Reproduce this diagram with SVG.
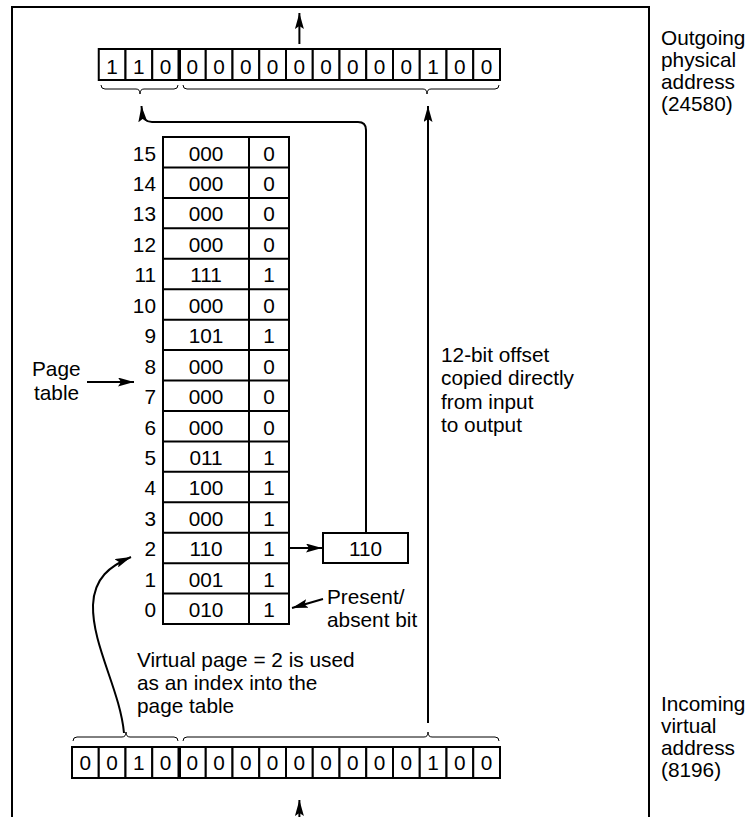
<svg xmlns="http://www.w3.org/2000/svg" width="748" height="817" viewBox="0 0 748 817">
<style>
text{font-family:"Liberation Sans",Arial,sans-serif;font-size:20.8px;fill:#000}
.c{text-anchor:middle}
.e{text-anchor:end}
.cell{fill:#fff;stroke:#000;stroke-width:2}
.ln{fill:none;stroke:#000;stroke-width:2}
.br{fill:none;stroke:#000;stroke-width:1}
</style>
<defs>
<marker id="ah" viewBox="0 0 16 9" refX="16" refY="4.5" markerWidth="16" markerHeight="9" markerUnits="userSpaceOnUse" orient="auto">
<path d="M0,0 L16,4.5 L0,9 L3,4.5 z" fill="#000"/>
</marker>
</defs>
<rect width="748" height="817" fill="#fff"/>
<g id="frame">
<path class="ln" d="M12,817 L12,7 L649,7 L649,817"/>
</g>

<g id="outgoing-address">
<rect class="cell" x="98.75" y="49" width="26.75" height="31"/>
<rect class="cell" x="125.5" y="49" width="26.75" height="31"/>
<rect class="cell" x="152.25" y="49" width="26.25" height="31"/>
<rect class="cell" x="180" y="49" width="25.75" height="31"/>
<rect class="cell" x="205.75" y="49" width="26.75" height="31"/>
<rect class="cell" x="232.5" y="49" width="26.75" height="31"/>
<rect class="cell" x="259.25" y="49" width="26.75" height="31"/>
<rect class="cell" x="286" y="49" width="26.75" height="31"/>
<rect class="cell" x="312.75" y="49" width="26.75" height="31"/>
<rect class="cell" x="339.5" y="49" width="26.75" height="31"/>
<rect class="cell" x="366.25" y="49" width="26.75" height="31"/>
<rect class="cell" x="393" y="49" width="26.75" height="31"/>
<rect class="cell" x="419.75" y="49" width="26.75" height="31"/>
<rect class="cell" x="446.5" y="49" width="26.75" height="31"/>
<rect class="cell" x="473.25" y="49" width="26.75" height="31"/>
<g class="c">
<text x="112.1" y="74">1</text><text x="138.9" y="74">1</text><text x="165.6" y="74">0</text>
<text x="192.4" y="74">0</text><text x="219.1" y="74">0</text><text x="245.9" y="74">0</text>
<text x="272.6" y="74">0</text><text x="299.4" y="74">0</text><text x="326.1" y="74">0</text>
<text x="352.9" y="74">0</text><text x="379.6" y="74">0</text><text x="406.4" y="74">0</text>
<text x="433.1" y="74">1</text><text x="459.9" y="74">0</text><text x="486.6" y="74">0</text>
</g>
<path class="br" d="M101,85 Q101,89 105,89 L136,89 Q140,89 140,94 Q140,89 144,89 L174,89 Q178,89 178,85"/>
<path class="br" d="M183,85 Q183,89 187,89 L423,89 Q427,89 427,94 Q427,89 431,89 L495,89 Q499,89 499,85"/>
</g>

<g id="incoming-address">
<rect class="cell" x="72" y="747" width="26.75" height="31"/>
<rect class="cell" x="98.75" y="747" width="26.75" height="31"/>
<rect class="cell" x="125.5" y="747" width="26.75" height="31"/>
<rect class="cell" x="152.25" y="747" width="26.25" height="31"/>
<rect class="cell" x="180" y="747" width="25.75" height="31"/>
<rect class="cell" x="205.75" y="747" width="26.75" height="31"/>
<rect class="cell" x="232.5" y="747" width="26.75" height="31"/>
<rect class="cell" x="259.25" y="747" width="26.75" height="31"/>
<rect class="cell" x="286" y="747" width="26.75" height="31"/>
<rect class="cell" x="312.75" y="747" width="26.75" height="31"/>
<rect class="cell" x="339.5" y="747" width="26.75" height="31"/>
<rect class="cell" x="366.25" y="747" width="26.75" height="31"/>
<rect class="cell" x="393" y="747" width="26.75" height="31"/>
<rect class="cell" x="419.75" y="747" width="26.75" height="31"/>
<rect class="cell" x="446.5" y="747" width="26.75" height="31"/>
<rect class="cell" x="473.25" y="747" width="26.75" height="31"/>
<g class="c">
<text x="85.4" y="770">0</text><text x="112.1" y="770">0</text><text x="138.9" y="770">1</text><text x="165.6" y="770">0</text>
<text x="192.4" y="770">0</text><text x="219.1" y="770">0</text><text x="245.9" y="770">0</text>
<text x="272.6" y="770">0</text><text x="299.4" y="770">0</text><text x="326.1" y="770">0</text>
<text x="352.9" y="770">0</text><text x="379.6" y="770">0</text><text x="406.4" y="770">0</text>
<text x="433.1" y="770">1</text><text x="459.9" y="770">0</text><text x="486.6" y="770">0</text>
</g>
<path class="br" d="M73,741 Q73,737 77,737 L122,737 Q126,737 126,732 Q126,737 130,737 L174,737 Q178,737 178,741"/>
<path class="br" d="M183,741 Q183,737 187,737 L424,737 Q428,737 428,732 Q428,737 432,737 L495,737 Q499,737 499,741"/>
</g>

<g id="page-table">
<rect class="cell" x="163" y="137" width="126" height="487"/>
<path class="ln" d="M249,137 V624 M163,167.44 H289 M163,197.88 H289 M163,228.32 H289 M163,258.76 H289 M163,289.2 H289 M163,319.64 H289 M163,350.08 H289 M163,380.52 H289 M163,410.96 H289 M163,441.4 H289 M163,471.84 H289 M163,502.28 H289 M163,532.72 H289 M163,563.16 H289 M163,593.6 H289"/>
<g class="e">
<text x="156" y="160.5">15</text><text x="156" y="190.9">14</text><text x="156" y="221.4">13</text><text x="156" y="251.8">12</text>
<text x="156" y="282.3">11</text><text x="156" y="312.7">10</text><text x="156" y="343.1">9</text><text x="156" y="373.6">8</text>
<text x="156" y="404">7</text><text x="156" y="434.5">6</text><text x="156" y="464.9">5</text><text x="156" y="495.3">4</text>
<text x="156" y="525.8">3</text><text x="156" y="556.2">2</text><text x="156" y="586.7">1</text><text x="156" y="617.1">0</text>
</g>
<g class="c">
<text x="206" y="160.5">000</text><text x="269" y="160.5">0</text>
<text x="206" y="190.9">000</text><text x="269" y="190.9">0</text>
<text x="206" y="221.4">000</text><text x="269" y="221.4">0</text>
<text x="206" y="251.8">000</text><text x="269" y="251.8">0</text>
<text x="206" y="282.3">111</text><text x="269" y="282.3">1</text>
<text x="206" y="312.7">000</text><text x="269" y="312.7">0</text>
<text x="206" y="343.1">101</text><text x="269" y="343.1">1</text>
<text x="206" y="373.6">000</text><text x="269" y="373.6">0</text>
<text x="206" y="404">000</text><text x="269" y="404">0</text>
<text x="206" y="434.5">000</text><text x="269" y="434.5">0</text>
<text x="206" y="464.9">011</text><text x="269" y="464.9">1</text>
<text x="206" y="495.3">100</text><text x="269" y="495.3">1</text>
<text x="206" y="525.8">000</text><text x="269" y="525.8">1</text>
<text x="206" y="556.2">110</text><text x="269" y="556.2">1</text>
<text x="206" y="586.7">001</text><text x="269" y="586.7">1</text>
<text x="206" y="617.1">010</text><text x="269" y="617.1">1</text>
</g>
</g>

<g id="frame-number">
<rect class="cell" x="323" y="533" width="85" height="30"/>
<text class="c" x="365.5" y="556">110</text>
</g>

<g id="label-page-table">
<text x="32" y="376">Page</text>
<text x="34" y="400">table</text>
</g>
<g id="label-present">
<text x="327" y="604">Present/</text>
<text x="327" y="627">absent bit</text>
</g>
<g id="label-offset">
<text x="441" y="362">12-bit offset</text>
<text x="441" y="385">copied directly</text>
<text x="441" y="409">from input</text>
<text x="441" y="432">to output</text>
</g>
<g id="label-virtual-page">
<text x="137" y="667">Virtual page = 2 is used</text>
<text x="137" y="690">as an index into the</text>
<text x="137" y="713">page table</text>
</g>
<g id="label-outgoing">
<text x="661" y="45">Outgoing</text>
<text x="661" y="67">physical</text>
<text x="661" y="89">address</text>
<text x="661" y="111">(24580)</text>
</g>
<g id="label-incoming">
<text x="661" y="711">Incoming</text>
<text x="661" y="733">virtual</text>
<text x="661" y="755">address</text>
<text x="661" y="777">(8196)</text>
</g>

<g id="connectors">
<path class="ln" d="M299.4,44 V13" marker-end="url(#ah)"/>
<path class="ln" d="M299.4,817 V800" marker-end="url(#ah)"/>
<path class="ln" d="M428,723 V106" marker-end="url(#ah)"/>
<path class="ln" d="M366,533 V130 Q366,122 358,122 L152,122 Q143,122 142,112 L141.5,106" marker-end="url(#ah)"/>
<path class="ln" d="M87,382 H134" stroke-width="1.5" marker-end="url(#ah)"/>
<path class="ln" d="M290,548 H322" marker-end="url(#ah)"/>
<path class="ln" d="M323,599 L292,608" stroke-width="1.5" marker-end="url(#ah)"/>
<path class="ln" d="M124,733 C120,690 92,645 93,605 C94,578 110,566 131,557" marker-end="url(#ah)"/>
</g>
</svg>
